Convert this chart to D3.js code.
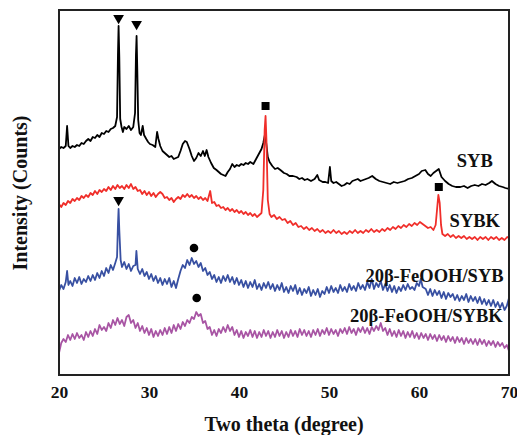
<!DOCTYPE html>
<html><head><meta charset="utf-8">
<script src="https://cdn.jsdelivr.net/npm/d3@7"></script>
<style>body{margin:0;background:#fff}svg{display:block}</style>
</head><body>
<script>
// ---- DATA (two theta in degrees, intensity in arbitrary counts incl. stacking offset) ----
const xTicks = [20, 30, 40, 50, 60, 70];
const seriesNames = ["SYB", "SYBK", "20β-FeOOH/SYB", "20β-FeOOH/SYBK"];
const seriesColors = ["#000000", "#f02e2a", "#3850a2", "#a855a4"];

const syb = [[20,226],[20.25,228],[20.5,227],[20.75,229],[20.9,249],[21.05,229],[21.25,227],[21.5,229],[21.75,228],[22,230],[22.25,229],[22.5,232],[22.75,231],[23,234],[23.25,236],[23.5,234],[23.75,238],[24,237],[24.25,240],[24.5,238],[24.75,242],[25,241],[25.25,244],[25.5,243],[25.75,246],[26,247],[26.25,249],[26.45,258],[26.55,320],[26.62,349],[26.7,318],[26.8,256],[26.95,248],[27.1,243],[27.25,248],[27.5,246],[27.75,249],[28,245],[28.25,248],[28.45,262],[28.55,320],[28.62,339],[28.7,305],[28.8,255],[28.95,242],[29.1,240],[29.3,249],[29.45,240],[29.7,236],[29.9,233],[30.1,231],[30.4,230],[30.7,228],[30.9,243],[31.05,236],[31.25,229],[31.5,224],[31.75,222],[32,220],[32.25,218],[32.5,219],[32.75,216],[33,217],[33.25,218],[33.5,224],[33.75,231],[34,234],[34.2,233],[34.5,226],[34.75,219],[35,214],[35.25,217],[35.5,222],[35.75,219],[36,224],[36.2,219],[36.4,225],[36.6,218],[36.9,212],[37.2,207],[37.5,205],[37.75,203],[38,201],[38.25,200],[38.5,199],[38.75,203],[39,206],[39.25,211],[39.5,208],[39.75,210],[40,209],[40.25,211],[40.5,210],[40.75,212],[41,211],[41.25,213],[41.6,211],[41.9,216],[42.2,221],[42.5,226],[42.7,232],[42.9,241],[43.05,230],[43.2,218],[43.4,213],[43.7,209],[44,206],[44.3,207],[44.6,205],[45,202],[45.3,201],[45.6,199],[46,199],[46.4,198],[46.7,196],[47,197],[47.3,195],[47.6,196],[48,194],[48.4,196],[48.7,200],[48.9,195],[49.3,193],[49.6,193],[49.9,192],[50.1,208],[50.25,194],[50.5,192],[50.8,193],[51.1,191],[51.4,189],[51.7,190],[52,192],[52.3,191],[52.6,194],[52.9,195],[53.2,196],[53.5,194],[53.8,195],[54.1,196],[54.4,197],[54.8,199],[55.2,196],[55.6,194],[56,193],[56.4,192],[56.8,191],[57.2,193],[57.6,192],[58,193],[58.4,194],[58.8,196],[59.2,197],[59.6,199],[60,201],[60.3,204],[60.7,205],[61,201],[61.3,199],[61.6,202],[61.9,204],[62.2,206],[62.5,198],[62.9,194],[63.3,191],[63.7,189],[64.1,188],[64.6,188],[65,189],[65.4,187],[65.8,189],[66.2,190],[66.6,189],[67,191],[67.4,190],[67.8,192],[68.1,194],[68.5,191],[68.9,189],[69.3,188],[69.6,187],[70,186]];

const sybk = [[20,171],[20.25,168],[20.5,172],[20.75,170],[21,174],[21.25,172],[21.5,176],[21.75,174],[22,177],[22.25,175],[22.5,179],[22.75,177],[23,180],[23.25,178],[23.5,182],[23.75,180],[24,184],[24.25,181],[24.5,185],[24.75,183],[25,186],[25.25,184],[25.5,188],[25.75,185],[26,189],[26.25,186],[26.5,190],[26.75,187],[27,189],[27.25,186],[27.5,190],[27.75,187],[28,191],[28.25,186],[28.5,188],[28.75,184],[29,185],[29.25,181],[29.5,184],[29.75,180],[30,183],[30.25,179],[30.5,182],[30.75,178],[31,181],[31.25,183],[31.5,181],[31.75,177],[32,178],[32.25,175],[32.5,177],[32.75,173],[33,176],[33.25,178],[33.5,176],[33.75,180],[34,178],[34.25,181],[34.5,178],[34.75,180],[35,177],[35.25,179],[35.5,176],[35.75,178],[36,175],[36.25,177],[36.5,174],[36.8,184],[37,172],[37.25,173],[37.5,169],[37.75,170],[38,167],[38.25,168],[38.5,165],[38.75,167],[39,164],[39.25,166],[39.5,163],[39.75,165],[40,162],[40.25,164],[40.5,161],[40.75,163],[41,160],[41.25,162],[41.5,159],[41.75,161],[42,158],[42.25,160],[42.5,162],[42.7,185],[42.85,245],[42.95,259],[43.05,235],[43.2,175],[43.4,161],[43.6,158],[43.9,160],[44.2,156],[44.5,158],[44.8,155],[45.1,156],[45.4,152],[45.7,154],[46,150],[46.3,152],[46.6,148],[46.9,149],[47.2,146],[47.5,148],[47.8,145],[48.1,147],[48.4,144],[48.7,146],[49,143],[49.3,145],[49.6,142],[49.9,144],[50.2,142],[50.5,145],[50.8,142],[51.1,144],[51.4,141],[51.7,143],[52,141],[52.3,144],[52.6,142],[52.9,145],[53.2,142],[53.5,144],[53.8,142],[54.1,145],[54.4,143],[54.7,146],[55,143],[55.3,145],[55.6,143],[55.9,146],[56.2,144],[56.5,147],[56.8,145],[57.1,148],[57.4,146],[57.7,149],[58,147],[58.3,150],[58.6,148],[58.9,151],[59.2,149],[59.5,152],[59.8,150],[60.1,153],[60.4,151],[60.7,149],[61,147],[61.3,148],[61.6,145],[61.85,150],[62,165],[62.15,180],[62.3,172],[62.45,150],[62.6,141],[62.9,139],[63.2,141],[63.5,138],[63.8,140],[64.1,137],[64.4,139],[64.7,137],[65,139],[65.3,136],[65.6,138],[65.9,136],[66.2,138],[66.5,135],[66.8,138],[67.1,136],[67.4,138],[67.7,135],[68,138],[68.3,136],[68.6,138],[68.9,135],[69.2,137],[69.5,135],[69.8,138],[70,137]];

const feSyb = [[20,84],[20.25,90],[20.5,86],[20.75,93],[20.9,104],[21.05,90],[21.25,94],[21.5,89],[21.75,97],[22,92],[22.25,98],[22.5,91],[22.75,96],[23,93],[23.25,99],[23.5,94],[23.75,100],[24,95],[24.25,102],[24.5,97],[24.75,104],[25,99],[25.25,107],[25.5,102],[25.75,110],[26,105],[26.25,112],[26.45,118],[26.55,150],[26.62,166],[26.7,145],[26.85,115],[27,108],[27.25,113],[27.5,106],[27.75,111],[28,104],[28.25,109],[28.5,110],[28.6,124],[28.75,106],[29,101],[29.25,106],[29.5,99],[29.75,103],[30,96],[30.25,101],[30.5,94],[30.75,99],[31,92],[31.25,97],[31.5,90],[31.75,96],[32,91],[32.25,97],[32.5,88],[32.75,94],[33,87],[33.25,96],[33.5,104],[33.75,110],[34,107],[34.25,115],[34.5,110],[34.75,117],[35,111],[35.25,114],[35.5,108],[35.75,112],[36,104],[36.25,107],[36.5,100],[36.75,103],[37,96],[37.25,100],[37.5,93],[37.75,98],[38,92],[38.25,99],[38.5,94],[38.75,100],[39,93],[39.25,98],[39.5,91],[39.75,97],[40,90],[40.25,95],[40.5,88],[40.75,94],[41,87],[41.25,93],[41.5,88],[41.75,95],[42,86],[42.25,91],[42.5,85],[42.75,92],[43,87],[43.25,93],[43.5,86],[43.75,91],[44,84],[44.25,90],[44.5,85],[44.75,92],[45,83],[45.25,88],[45.5,82],[45.75,89],[46,84],[46.25,90],[46.5,81],[46.75,87],[47,80],[47.25,86],[47.5,82],[47.75,88],[48,79],[48.25,85],[48.5,80],[48.75,86],[49,78],[49.25,84],[49.5,81],[49.75,88],[50,82],[50.25,89],[50.5,83],[50.75,87],[51,82],[51.25,90],[51.5,84],[51.75,88],[52,83],[52.25,91],[52.5,85],[52.75,89],[53,84],[53.25,92],[53.5,86],[53.75,90],[54,85],[54.25,93],[54.5,87],[54.75,96],[55,86],[55.25,92],[55.5,88],[55.75,94],[56,85],[56.25,91],[56.5,84],[56.75,90],[57,83],[57.25,89],[57.5,82],[57.75,88],[58,84],[58.25,90],[58.5,85],[58.75,91],[59,86],[59.25,88],[59.5,85],[59.75,92],[60,89],[60.2,96],[60.4,88],[60.75,86],[61,80],[61.25,86],[61.5,79],[61.75,85],[62,80],[62.25,84],[62.5,77],[62.75,83],[63,76],[63.25,82],[63.5,78],[63.75,81],[64,75],[64.25,80],[64.5,74],[64.75,79],[65,75],[65.25,81],[65.5,73],[65.75,79],[66,74],[66.25,78],[66.5,72],[66.75,78],[67,71],[67.25,76],[67.5,70],[67.75,75],[68,69],[68.25,75],[68.5,68],[68.75,73],[69,67],[69.25,72],[69.5,65],[69.75,69],[70,77]];

const feSybk = [[20,22],[20.25,32],[20.5,36],[20.75,33],[21,40],[21.25,35],[21.5,41],[21.75,36],[22,42],[22.25,37],[22.5,40],[22.75,35],[23,43],[23.25,38],[23.5,44],[23.75,39],[24,46],[24.25,41],[24.5,50],[24.75,45],[25,48],[25.25,44],[25.5,52],[25.75,47],[26,55],[26.25,50],[26.5,57],[26.75,51],[27,55],[27.25,49],[27.5,58],[27.75,60],[28,52],[28.25,55],[28.5,47],[28.75,52],[29,44],[29.25,49],[29.5,42],[29.75,47],[30,40],[30.25,46],[30.5,38],[30.75,44],[31,39],[31.25,45],[31.5,40],[31.75,47],[32,41],[32.25,48],[32.5,42],[32.75,50],[33,44],[33.25,51],[33.5,46],[33.75,53],[34,49],[34.25,55],[34.5,52],[34.75,58],[35,56],[35.25,63],[35.5,59],[35.75,61],[36,52],[36.25,54],[36.5,46],[36.75,48],[37,40],[37.25,45],[37.5,39],[37.75,46],[38,42],[38.25,48],[38.5,43],[38.75,50],[39,44],[39.25,48],[39.5,40],[39.75,45],[40,38],[40.25,44],[40.5,37],[40.75,43],[41,39],[41.25,45],[41.5,38],[41.75,44],[42,37],[42.25,43],[42.5,38],[42.75,45],[43,39],[43.25,44],[43.5,37],[43.75,43],[44,38],[44.25,45],[44.5,39],[44.75,44],[45,37],[45.25,43],[45.5,38],[45.75,45],[46,39],[46.25,44],[46.5,38],[46.75,46],[47,40],[47.25,45],[47.5,39],[47.75,44],[48,38],[48.25,45],[48.5,40],[48.75,46],[49,39],[49.25,45],[49.5,41],[49.75,47],[50,40],[50.25,46],[50.5,41],[50.75,45],[51,39],[51.25,46],[51.5,42],[51.75,47],[52,41],[52.25,48],[52.5,42],[52.75,46],[53,40],[53.25,47],[53.5,43],[53.75,48],[54,42],[54.25,47],[54.5,41],[54.75,48],[55,44],[55.25,49],[55.5,45],[55.75,52],[56,44],[56.25,47],[56.5,40],[56.75,46],[57,39],[57.25,44],[57.5,38],[57.75,45],[58,39],[58.25,44],[58.5,37],[58.75,43],[59,38],[59.25,44],[59.5,37],[59.75,42],[60,36],[60.25,42],[60.5,37],[60.75,41],[61,35],[61.25,41],[61.5,36],[61.75,40],[62,34],[62.25,40],[62.5,35],[62.75,39],[63,33],[63.25,39],[63.5,34],[63.75,38],[64,32],[64.25,38],[64.5,33],[64.75,37],[65,31],[65.25,37],[65.5,32],[65.75,36],[66,31],[66.25,36],[66.5,30],[66.75,36],[67,31],[67.25,35],[67.5,29],[67.75,34],[68,30],[68.25,34],[68.5,28],[68.75,33],[69,29],[69.25,32],[69.5,27],[69.75,30],[70,24]];

// phase markers: [two theta, intensity]
const triangleMarks = [[26.62,357],[28.62,351],[26.62,175]];
const squareMarks = [[42.95,269],[62.2,188]];
const circleMarks = [[35.0,127],[35.3,77]];
// label anchor positions: [two theta (right edge), intensity (baseline)]
const labelPos = [[68.2,208],[69.0,148],[69.4,93],[69.3,53]];

// ---- CHART ----
const W = 517, H = 435;
const m = {left:59, right:8, top:10, bottom:60};
const svg = d3.select("body").append("svg").attr("width", W).attr("height", H);
const font = "'Liberation Serif','Times New Roman',serif";

const x = d3.scaleLinear().domain([20, 70]).range([m.left, W - m.right]);
const y = d3.scaleLinear().domain([0, 365]).range([H - m.bottom, m.top]);

const plot = svg.append("g");
plot.append("defs").append("clipPath").attr("id","clip")
  .append("rect").attr("x", m.left).attr("y", m.top)
  .attr("width", x(70) - x(20)).attr("height", y(0) - y(365));

const line = d3.line().x(d => x(d[0])).y(d => y(d[1]));
const allSeries = [syb, sybk, feSyb, feSybk];
[3,2,0,1].forEach(i => {
  plot.append("path").datum(allSeries[i])
    .attr("clip-path","url(#clip)")
    .attr("fill","none").attr("stroke", seriesColors[i])
    .attr("stroke-width", 1.8).attr("stroke-linejoin","round")
    .attr("d", line);
});

// markers
const tri = d3.symbol().type(d3.symbolTriangle).size(50);
svg.selectAll(".tri").data(triangleMarks).join("path")
  .attr("d", tri).attr("fill","#000")
  .attr("transform", d => `translate(${x(d[0])},${y(d[1])}) rotate(180)`);
svg.selectAll(".sq").data(squareMarks).join("rect")
  .attr("x", d => x(d[0]) - 4).attr("y", d => y(d[1]) - 4)
  .attr("width", 8).attr("height", 8).attr("fill","#000");
svg.selectAll(".dot").data(circleMarks).join("circle")
  .attr("cx", d => x(d[0])).attr("cy", d => y(d[1])).attr("r", 4.3).attr("fill","#000");

// labels
svg.selectAll(".lab").data(seriesNames).join("text")
  .attr("x", (d,i) => x(labelPos[i][0])).attr("y", (d,i) => y(labelPos[i][1]))
  .attr("text-anchor","end").attr("font-family", font).attr("font-weight","bold")
  .attr("font-size", 18.5).attr("fill","#111").text(d => d);

// frame
svg.append("rect").attr("x", m.left).attr("y", m.top)
  .attr("width", x(70) - x(20)).attr("height", y(0) - y(365))
  .attr("fill","none").attr("stroke","#222").attr("stroke-width", 2);

// x axis
const xa = svg.append("g").attr("transform", `translate(0,${y(0)})`)
  .call(d3.axisBottom(x).tickValues(xTicks).tickSize(0).tickPadding(11).tickFormat(d3.format("d")));
xa.select(".domain").remove();
xa.selectAll("text").attr("font-family", font).attr("font-weight","bold")
  .attr("font-size", 17.5).attr("fill","#111");

svg.append("text").attr("x", 284).attr("y", 431).attr("text-anchor","middle")
  .attr("font-family", font).attr("font-weight","bold").attr("font-size", 20)
  .attr("fill","#111").text("Two theta (degree)");
svg.append("text").attr("transform","translate(27,193) rotate(-90)")
  .attr("text-anchor","middle").attr("font-family", font).attr("font-weight","bold")
  .attr("font-size", 20).attr("fill","#111").text("Intensity (Counts)");
</script>
</body></html>
